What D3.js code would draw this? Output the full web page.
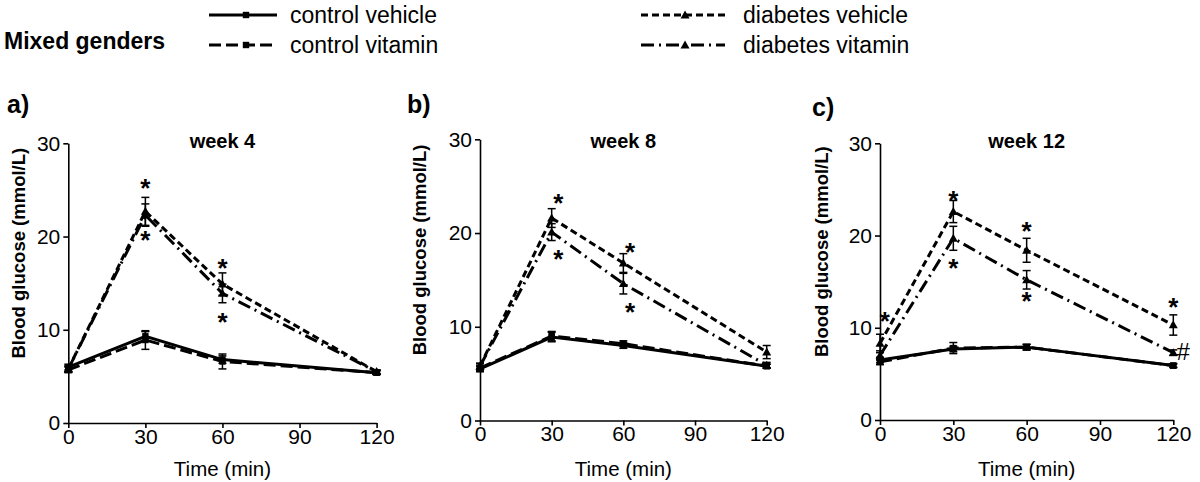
<!DOCTYPE html>
<html><head><meta charset="utf-8">
<script src="https://cdn.jsdelivr.net/npm/d3@7"></script>
<style>body{margin:0;background:#fff} text{font-family:"Liberation Sans",Arial,sans-serif;fill:#000}</style>
</head><body><svg id="c" width="1200" height="482"></svg>
<script>
const weeks = ["week 4","week 8","week 12"];
const panelLabels = ["a)","b)","c)"];
const times = [0,30,60,120];
const xTicks = [0,30,60,90,120];
const yTicks = [0,10,20,30];
const seriesNames = ["control vehicle","control vitamin","diabetes vehicle","diabetes vitamin"];

// values per panel (week 4, week 8, week 12) at times 0,30,60,120
const controlVehicle    = [[6.0,9.3,6.8,5.4],[5.5,8.9,8.0,5.8],[6.5,7.7,7.9,5.9]];
const controlVehicleErr = [[0.3,0.5,0.4,0.2],[0.3,0.5,0.3,0.2],[0.3,0.3,0.3,0.2]];
const controlVitamin    = [[5.7,8.9,6.6,5.4],[5.6,9.0,8.2,5.8],[6.3,7.8,7.9,5.9]];
const controlVitaminErr = [[0.3,1.0,0.8,0.2],[0.3,0.5,0.3,0.2],[0.3,0.6,0.3,0.2]];
const diabetesVehicle    = [[5.8,22.7,14.9,5.5],[5.8,21.6,16.8,7.3],[8.3,22.6,18.4,10.3]];
const diabetesVehicleErr = [[0.3,1.5,1.2,0.2],[0.3,1.0,1.0,0.7],[1.0,1.2,1.3,1.1]];
const diabetesVitamin    = [[5.8,22.3,13.9,5.5],[5.8,20.1,14.6,5.9],[7.0,19.7,15.2,7.3]];
const diabetesVitaminErr = [[0.3,1.2,1.0,0.2],[0.3,0.9,1.1,0.3],[0.5,1.3,1.0,0.3]];

const annotations = [
  [{t:30,v:25.7,s:"*"},{t:30,v:20.2,s:"*"},{t:60,v:17.2,s:"*"},{t:60,v:11.4,s:"*"}],
  [{t:32.8,v:23.7,s:"*"},{t:32.8,v:17.8,s:"*"},{t:62.8,v:18.5,s:"*"},{t:62.8,v:12.1,s:"*"}],
  [{t:2,v:11.3,s:"*"},{t:30,v:24.4,s:"*"},{t:30,v:17.0,s:"*"},{t:60,v:21.0,s:"*"},{t:60,v:13.4,s:"*"},{t:120,v:12.8,s:"*"},{t:124,v:7.35,s:"#"}]
];

const seriesVals = [controlVehicle, controlVitamin, diabetesVehicle, diabetesVitamin];
const seriesErrs = [controlVehicleErr, controlVitaminErr, diabetesVehicleErr, diabetesVitaminErr];
const styles = [
  {dash:null, marker:"square"},
  {dash:"12,5", marker:"square"},
  {dash:"7,4", marker:"triangle"},
  {dash:"13,5,2,5", marker:"triangle"}
];

const svg = d3.select("#c");
const layout = [
  {x0:68.3, x1:376.6, yT:143.3, yB:423, lab:[7,113], yl:18.5},
  {x0:480, x1:766.7, yT:139.3, yB:420.5, lab:[407,113], yl:420},
  {x0:880, x1:1173.3, yT:143.3, yB:420, lab:[812,116], yl:821.5}
];

function marker(g, type, x, y) {
  if (type === "square") {
    g.append("rect").attr("x", x-3.2).attr("y", y-3.2).attr("width",6.4).attr("height",6.4).attr("fill","#000");
  } else {
    const s = 4.5;
    g.append("path").attr("d", `M${x},${y-s}L${x+s},${y+s*0.75}L${x-s},${y+s*0.75}Z`).attr("fill","#000");
  }
}

layout.forEach((L, p) => {
  const x = d3.scaleLinear().domain([0,120]).range([L.x0, L.x1]);
  const y = d3.scaleLinear().domain([0,30]).range([L.yB, L.yT]);
  const g = svg.append("g");

  const ya = g.append("g").attr("transform", `translate(${L.x0},0)`)
    .call(d3.axisLeft(y).tickValues(yTicks).tickSize(5).tickSizeOuter(0).tickPadding(3));
  const xa = g.append("g").attr("transform", `translate(0,${L.yB})`)
    .call(d3.axisBottom(x).tickValues(xTicks).tickSize(5).tickSizeOuter(0).tickPadding(1));
  [ya, xa].forEach(a => {
    a.selectAll("path,line").attr("stroke","#000").attr("stroke-width",1.6);
    a.selectAll("text").style("font-size","21px").style("font-family",'"Liberation Sans",Arial,sans-serif');
  });

  g.append("text").attr("x", (L.x0+L.x1)/2).attr("y", 148).attr("text-anchor","middle")
    .style("font-size","20px").style("font-weight","bold").text(weeks[p]);
  g.append("text").attr("x", L.lab[0]).attr("y", L.lab[1])
    .style("font-size","25px").style("font-weight","bold").text(panelLabels[p]);
  g.append("text").attr("transform", `translate(${L.yl+6},${(L.yT+L.yB)/2 - 30}) rotate(-90)`)
    .attr("text-anchor","middle").style("font-size","18.5px").style("font-weight","bold")
    .text("Blood glucose (mmol/L)");
  g.append("text").attr("x", (L.x0+L.x1)/2).attr("y", 476).attr("text-anchor","middle")
    .style("font-size","20.5px").text("Time (min)");

  const line = d3.line().x((d,i) => x(times[i])).y(d => y(d));
  seriesVals.forEach((vals, s) => {
    const v = vals[p], e = seriesErrs[s][p];
    g.append("path").attr("d", line(v)).attr("fill","none").attr("stroke","#000")
      .attr("stroke-width",3).attr("stroke-dasharray", styles[s].dash);
    v.forEach((d,i) => {
      const cx = x(times[i]);
      g.append("line").attr("x1",cx).attr("x2",cx).attr("y1",y(d-e[i])).attr("y2",y(d+e[i]))
        .attr("stroke","#000").attr("stroke-width",1.5);
      [d-e[i], d+e[i]].forEach(q => g.append("line").attr("x1",cx-4).attr("x2",cx+4)
        .attr("y1",y(q)).attr("y2",y(q)).attr("stroke","#000").attr("stroke-width",1.5));
      marker(g, styles[s].marker, cx, y(d));
    });
  });
  annotations[p].forEach(a => {
    g.append("text").attr("x", x(a.t)).attr("y", y(a.v) + (a.s === "*" ? 14 : 8))
      .attr("text-anchor","middle").style("font-size", a.s === "*" ? "26px" : "24px")
      .style("font-weight", a.s === "*" ? "bold" : "normal").text(a.s);
  });
});

// legend
svg.append("text").attr("x",4).attr("y",49).style("font-size","23px").style("font-weight","bold").text("Mixed genders");
const legendPos = [[209,277,15,290],[209,277,45,290],[641,725,15,743],[641,725,45,743]];
seriesNames.forEach((n, s) => {
  const [a,b,yy,tx] = legendPos[s];
  const lg = svg.append("g");
  lg.append("line").attr("x1",a).attr("x2",b).attr("y1",yy).attr("y2",yy).attr("stroke","#000")
    .attr("stroke-width",3).attr("stroke-dasharray", styles[s].dash);
  marker(lg, styles[s].marker, (a+b)/2 + (s<2?3:2), yy);
  lg.append("text").attr("x",tx).attr("y",yy+8).style("font-size","23px").text(n);
});
</script></body></html>
